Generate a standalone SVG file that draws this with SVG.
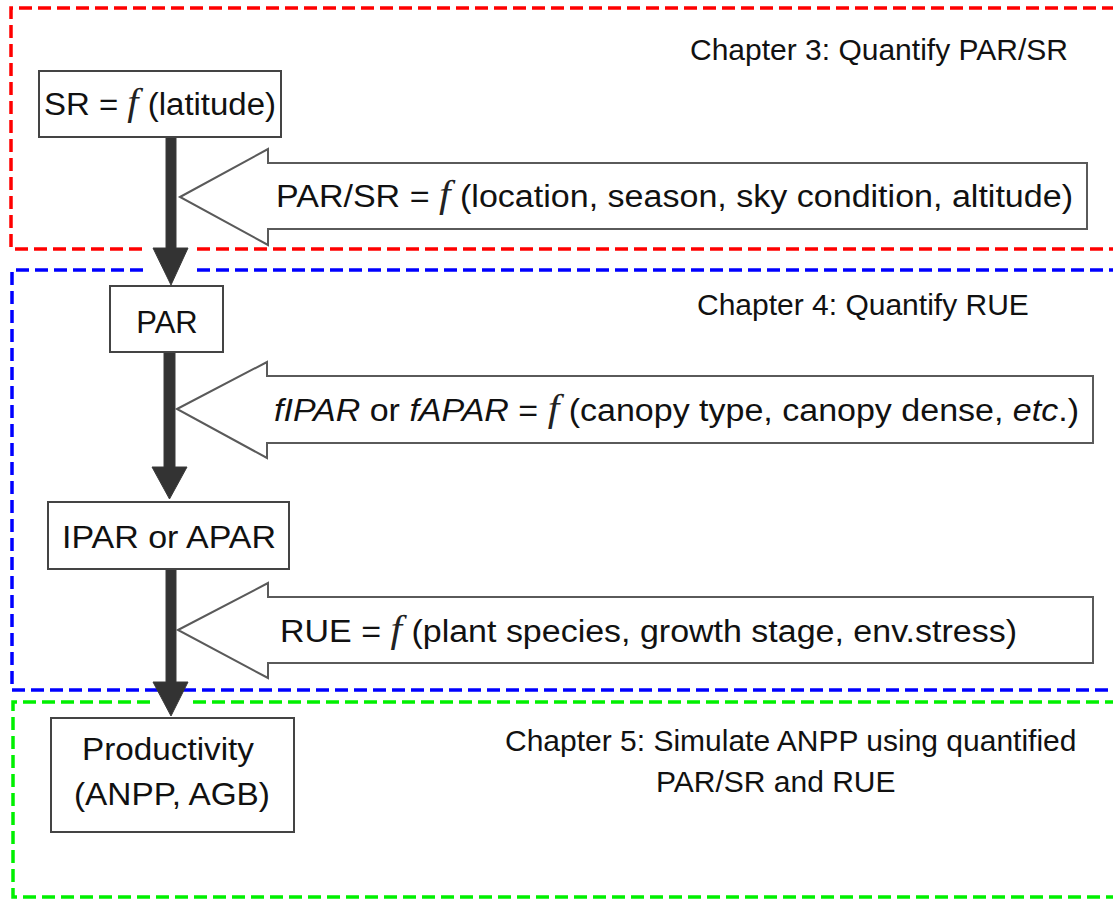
<svg xmlns="http://www.w3.org/2000/svg" width="1113" height="899" viewBox="0 0 1113 899">
<style>
.t{font-family:"Liberation Sans",Arial,sans-serif;font-size:31px;fill:#111}
.ch{font-family:"Liberation Sans",Arial,sans-serif;font-size:30px;fill:#111}
.fx{font-family:"Liberation Serif","Times New Roman",serif;font-style:italic;font-size:38px;fill:#222}
.it{font-style:italic}
.box{fill:#fff;stroke:#444;stroke-width:2}
.hollow{fill:#fff;stroke:#5a5a5a;stroke-width:2;stroke-linejoin:miter}
.dash{fill:none;stroke-width:3.5;stroke-dasharray:13 6}
.main{fill:#333;stroke:#3a3a3a;stroke-width:1}
</style>
<rect width="1113" height="899" fill="#fff"/>
<g id="chapter3">
<path class="dash" stroke="#ff0000" d="M1115 8 H11 V249 H143 M197 249 H1115"/>
<text class="ch" x="690" y="60">Chapter 3: Quantify PAR/SR</text>
</g>
<g id="chapter4">
<path class="dash" stroke="#0000ff" d="M143 270 H12 V690 H1115 M197 270 H1115"/>
<text class="ch" x="697" y="315">Chapter 4: Quantify RUE</text>
</g>
<g id="chapter5">
<path class="dash" stroke="#00f000" d="M150 702 H13 V897 H1115 M193 702 H1115"/>
<text class="ch" x="505" y="751">Chapter 5: Simulate ANPP using quantified</text>
<text class="ch" x="656" y="792">PAR/SR and RUE</text>
</g>
<g id="connectors">
<path class="main" d="M166 137 H176 V248 H188 L171 285 L153 248 H166 Z"/>
<path class="main" d="M164 352 H175 V467 H187 L169.5 499 L152 467 H164 Z"/>
<path class="main" d="M166 569 H176 V682 H188 L171 716 L153 682 H166 Z"/>
</g>
<g id="sr">
<rect class="box" x="39" y="71" width="242" height="66"/>
<text class="t" x="44" y="115" textLength="232" lengthAdjust="spacingAndGlyphs">SR = <tspan class="fx">f</tspan> (latitude)</text>
</g>
<g id="parsr">
<path class="hollow" d="M180 197 L268 149 V163 H1087 V229 H268 V245 Z"/>
<text class="t" x="276" y="207" textLength="797" lengthAdjust="spacingAndGlyphs">PAR/SR = <tspan class="fx">f</tspan> (location, season, sky condition, altitude)</text>
</g>
<g id="par">
<rect class="box" x="110" y="286" width="113" height="66"/>
<text class="t" x="167" y="333" text-anchor="middle">PAR</text>
</g>
<g id="fipar">
<path class="hollow" d="M177 409 L267 362 V376 H1093 V443 H267 V458 Z"/>
<text class="t" x="274" y="421" textLength="805" lengthAdjust="spacingAndGlyphs"><tspan class="it">fIPAR</tspan> or <tspan class="it">fAPAR</tspan> = <tspan class="fx">f</tspan> (canopy type, canopy dense, <tspan class="it">etc</tspan>.)</text>
</g>
<g id="ipar">
<rect class="box" x="48" y="502" width="241" height="67"/>
<text class="t" x="62" y="548" textLength="214" lengthAdjust="spacingAndGlyphs">IPAR or APAR</text>
</g>
<g id="rue">
<path class="hollow" d="M178 630 L268 583 V597 H1093 V663 H268 V678 Z"/>
<text class="t" x="280" y="642" textLength="737" lengthAdjust="spacingAndGlyphs">RUE = <tspan class="fx">f</tspan> (plant species, growth stage, env.stress)</text>
</g>
<g id="productivity">
<rect class="box" x="51" y="718" width="243" height="114"/>
<text class="t" x="168" y="760" text-anchor="middle" textLength="172" lengthAdjust="spacingAndGlyphs">Productivity</text>
<text class="t" x="172" y="805" text-anchor="middle" textLength="196" lengthAdjust="spacingAndGlyphs">(ANPP, AGB)</text>
</g>
</svg>
